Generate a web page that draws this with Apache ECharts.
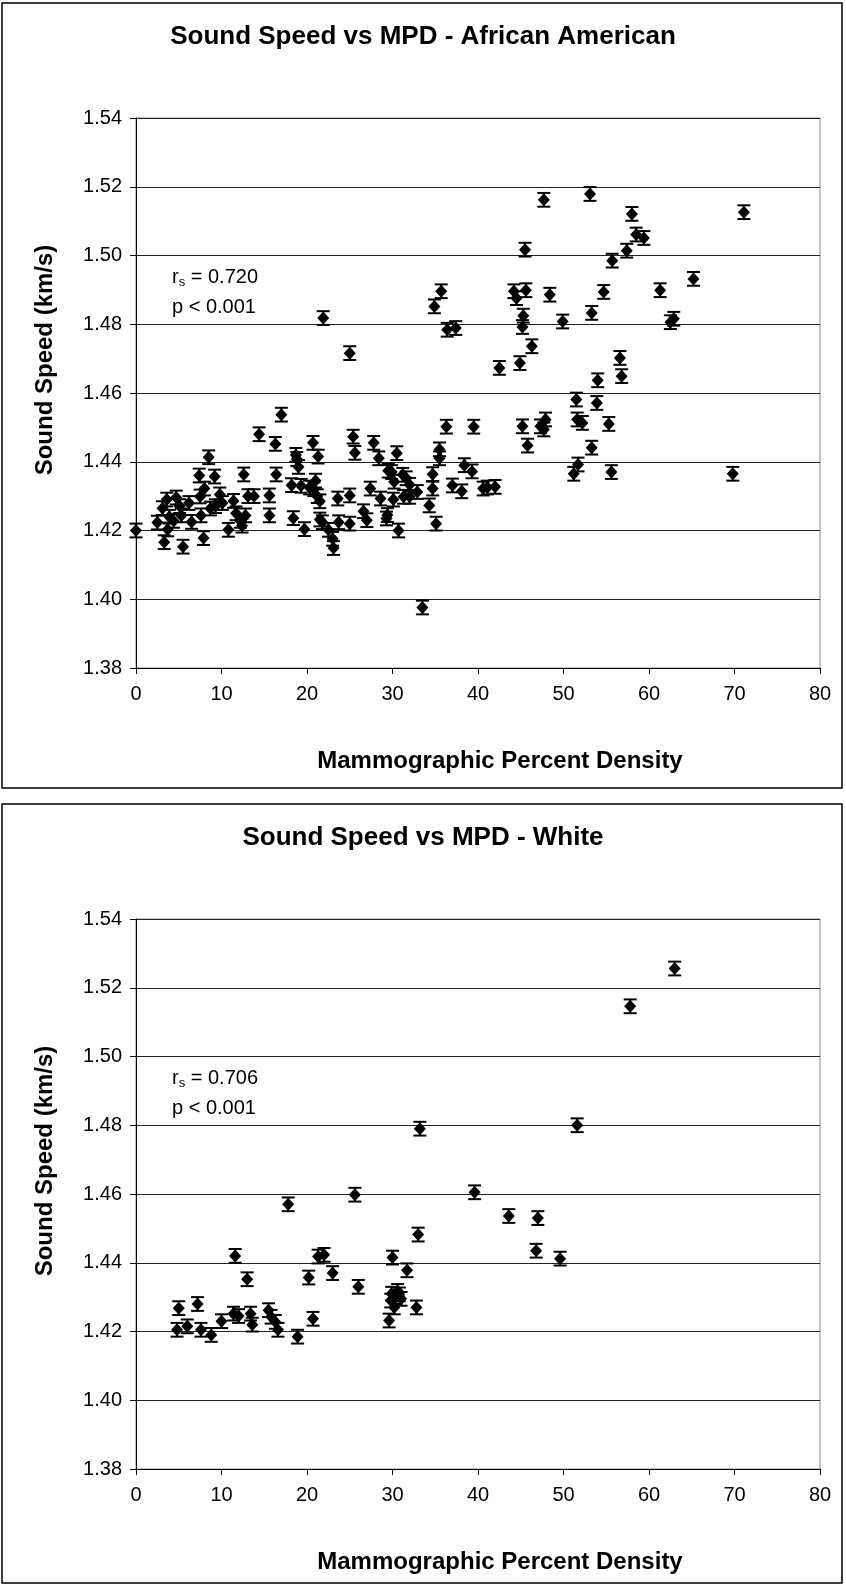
<!DOCTYPE html>
<html>
<head>
<meta charset="utf-8">
<title>Sound Speed vs MPD</title>
<script src="https://cdn.jsdelivr.net/npm/echarts@6/dist/echarts.min.js"></script>
<style>
  html, body { margin: 0; padding: 0; background: #fff; }
  #main { width: 846px; height: 1585px; }
</style>
</head>
<body>
<div id="main"></div>
<script>
// chart text
var titles = ['Sound Speed vs MPD - African American', 'Sound Speed vs MPD - White'];
var xName = 'Mammographic Percent Density';
var yName = 'Sound Speed (km/s)';
var rsValues = ['0.720', '0.706'];
var pValues = ['0.001', '0.001'];

// error bar half length (km/s)
var errAA = 0.002;
var errW = 0.002;

// [MPD %, sound speed km/s]
var dataAA = [
    [0, 1.420], [2.5, 1.4223], [3.1, 1.4265], [3.3, 1.4166], [3.6, 1.4290],
    [3.7, 1.4203], [3.9, 1.4240], [4.4, 1.4228], [4.7, 1.4296], [5.1, 1.4271],
    [5.3, 1.4244], [5.5, 1.4153], [6.2, 1.4280], [6.5, 1.4225], [7.4, 1.4360],
    [7.5, 1.4299], [7.6, 1.4244], [7.9, 1.4178], [8.0, 1.4322], [8.5, 1.4413],
    [8.7, 1.4264], [9.2, 1.4357], [9.3, 1.4271], [9.8, 1.4305], [10.1, 1.4280],
    [10.8, 1.4202], [11.4, 1.4286], [11.7, 1.4250], [12.2, 1.4228], [12.4, 1.4214],
    [12.6, 1.4363], [12.8, 1.4244], [13.1, 1.4300], [13.8, 1.4300], [14.4, 1.4480],
    [15.6, 1.4302], [15.6, 1.4244], [16.3, 1.4452], [16.4, 1.4363], [17.0, 1.4537],
    [18.2, 1.4332], [18.4, 1.4236], [18.7, 1.4420], [18.8, 1.4408], [19.0, 1.4385],
    [19.3, 1.4330], [19.7, 1.4204], [20.3, 1.4325], [20.7, 1.4455], [20.8, 1.4320],
    [21.0, 1.4345], [21.2, 1.4300], [21.3, 1.4415], [21.5, 1.4285], [21.5, 1.4232],
    [21.8, 1.4224], [21.9, 1.4818], [22.5, 1.4202], [23.0, 1.4176], [23.1, 1.4149],
    [23.6, 1.4293], [23.7, 1.4224], [25.0, 1.4302], [25.0, 1.4220], [25.0, 1.4716],
    [25.4, 1.4473], [25.6, 1.4426], [26.6, 1.4256], [27.0, 1.4230], [27.4, 1.4322],
    [27.8, 1.4455], [28.4, 1.4410], [28.6, 1.4293], [29.3, 1.4235], [29.4, 1.4245],
    [29.5, 1.4374], [29.9, 1.4370], [30.1, 1.4290], [30.2, 1.4342], [30.5, 1.4425],
    [30.7, 1.4200], [31.2, 1.4362], [31.3, 1.4298], [31.6, 1.4352], [32.0, 1.4333],
    [32.0, 1.4298], [32.9, 1.4312], [33.5, 1.3976], [34.3, 1.4273], [34.7, 1.4364],
    [34.7, 1.4322], [34.9, 1.4852], [35.1, 1.4220], [35.5, 1.4436], [35.5, 1.4410],
    [35.7, 1.4896], [36.3, 1.4502], [36.4, 1.4784], [37.0, 1.4331], [37.4, 1.4789],
    [38.1, 1.4314], [38.4, 1.4390], [39.3, 1.4372], [39.5, 1.4502], [40.6, 1.4322],
    [41.1, 1.4325], [42.0, 1.4327], [42.5, 1.4673], [44.2, 1.4896], [44.5, 1.4876],
    [44.9, 1.4687], [45.2, 1.4792], [45.2, 1.4503], [45.3, 1.4825], [45.5, 1.5017],
    [45.6, 1.4899], [45.8, 1.4447], [46.3, 1.4736], [47.3, 1.4503], [47.7, 1.5162],
    [47.7, 1.4494], [47.9, 1.4523], [48.4, 1.4886], [49.9, 1.4808], [51.2, 1.4365],
    [51.5, 1.4581], [51.6, 1.4523], [51.7, 1.4392], [52.2, 1.4513], [53.1, 1.5179],
    [53.3, 1.4833], [53.3, 1.4441], [53.9, 1.4571], [54.0, 1.4637], [54.7, 1.4894],
    [55.3, 1.4510], [55.6, 1.4370], [55.7, 1.4985], [56.6, 1.4702], [56.8, 1.4649],
    [57.4, 1.5014], [58.0, 1.5121], [58.5, 1.5061], [59.4, 1.5051], [61.3, 1.4899],
    [62.5, 1.4806], [62.9, 1.4816], [65.2, 1.4932], [69.8, 1.4365], [71.1, 1.5126]
];

var dataW = [
    [4.8, 1.4205], [5.0, 1.4268], [6.0, 1.4215], [7.2, 1.4280], [7.6, 1.4205],
    [8.8, 1.4190], [10.0, 1.4230], [11.4, 1.4252], [11.6, 1.4420], [12.0, 1.4245],
    [13.0, 1.4352], [13.4, 1.4252], [13.6, 1.4220], [15.5, 1.4262], [15.8, 1.4243],
    [16.3, 1.4228], [16.6, 1.4205], [17.8, 1.4570], [18.9, 1.4185], [20.2, 1.4357],
    [20.7, 1.4237], [21.3, 1.4418], [22.0, 1.4423], [23.0, 1.4370], [25.6, 1.4598],
    [26.0, 1.4330], [29.6, 1.4232], [29.8, 1.4290], [29.9, 1.4310], [30.0, 1.4415],
    [30.2, 1.4270], [30.4, 1.4300], [30.6, 1.4318], [30.8, 1.4308], [31.0, 1.4295],
    [31.7, 1.4378], [32.8, 1.4270], [33.0, 1.4482], [33.2, 1.4790], [39.6, 1.4605],
    [43.6, 1.4536], [46.8, 1.4435], [47.0, 1.4530], [49.6, 1.4412], [51.6, 1.4800],
    [57.8, 1.5146], [63.0, 1.5256]
];

var font = "'Liberation Sans', Arial, sans-serif";
var panelTop = [3, 804];
var panelHeight = [785, 779];
var plotTop = [118, 919];

var chart = echarts.init(document.getElementById('main'));

function errorBar(err) {
    return function (params, api) {
        var x = api.value(0), y = api.value(1);
        var hi = api.coord([x, y + err]);
        var lo = api.coord([x, y - err]);
        var st = { stroke: '#000', lineWidth: 2 };
        return {
            type: 'group',
            children: [
                { type: 'line', shape: { x1: hi[0], y1: hi[1], x2: lo[0], y2: lo[1] }, style: st },
                { type: 'line', shape: { x1: hi[0] - 6.5, y1: hi[1], x2: hi[0] + 6.5, y2: hi[1] }, style: st },
                { type: 'line', shape: { x1: lo[0] - 6.5, y1: lo[1], x2: lo[0] + 6.5, y2: lo[1] }, style: st }
            ]
        };
    };
}

var grids = [], xAxes = [], yAxes = [], series = [], graphics = [], titleList = [];
var sets = [[dataAA, errAA], [dataW, errW]];

sets.forEach(function (s, i) {
    grids.push({
        left: 136, top: plotTop[i], width: 684, height: 550,
        show: true, borderColor: '#888', borderWidth: 1
    });
    xAxes.push({
        gridIndex: i, type: 'value', min: 0, max: 80, interval: 10,
        axisLine: { onZero: false, lineStyle: { color: '#000', width: 1 } },
        axisTick: { length: 6, lineStyle: { color: '#000' } },
        axisLabel: { fontSize: 20, color: '#000', fontFamily: font, margin: 16 },
        splitLine: { show: false }
    });
    yAxes.push({
        gridIndex: i, type: 'value', min: 1.38, max: 1.54, interval: 0.02,
        axisLine: { show: true, lineStyle: { color: '#000', width: 1 } },
        axisTick: { show: true, length: 6, lineStyle: { color: '#000' } },
        axisLabel: {
            fontSize: 20, color: '#000', fontFamily: font, margin: 14,
            formatter: function (v) { return v.toFixed(2); }
        },
        splitLine: { lineStyle: { color: '#222', width: 1 } }
    });
    series.push({
        type: 'custom', xAxisIndex: i, yAxisIndex: i,
        renderItem: errorBar(s[1]), data: s[0], z: 2
    });
    series.push({
        type: 'scatter', xAxisIndex: i, yAxisIndex: i,
        symbol: 'diamond', symbolSize: [12, 13],
        itemStyle: { color: '#000', opacity: 1 }, data: s[0], z: 3
    });
    titleList.push({
        text: titles[i], left: 'center', top: panelTop[i] + 16,
        textStyle: { fontSize: 26, fontWeight: 'bold', color: '#000', fontFamily: font }
    });
    graphics.push({
        type: 'rect', shape: { x: 2, y: panelTop[i], width: 840, height: panelHeight[i] },
        style: { fill: 'none', stroke: '#000', lineWidth: 1.5 }, z: 10
    });
    graphics.push({
        type: 'text', x: 500, y: plotTop[i] + 643,
        style: {
            text: xName, fill: '#000', font: 'bold 24px ' + font,
            align: 'center', verticalAlign: 'middle'
        }
    });
    graphics.push({
        type: 'text', x: 45, y: plotTop[i] + 242, rotation: Math.PI / 2,
        style: {
            text: yName, fill: '#000', font: 'bold 24px ' + font,
            align: 'center', verticalAlign: 'middle'
        }
    });
    graphics.push({
        type: 'text', x: 172, y: plotTop[i] + 159,
        style: {
            text: '{a|r}{b|s}{a| = ' + rsValues[i] + '}',
            verticalAlign: 'middle',
            rich: {
                a: { fontSize: 20, fontFamily: font, color: '#000', lineHeight: 24 },
                b: { fontSize: 13, fontFamily: font, color: '#000', lineHeight: 10, verticalAlign: 'bottom' }
            }
        }
    });
    graphics.push({
        type: 'text', x: 172, y: plotTop[i] + 189,
        style: {
            text: 'p < ' + pValues[i], fill: '#000', font: '20px ' + font,
            align: 'left', verticalAlign: 'middle'
        }
    });
});

chart.setOption({
    backgroundColor: '#fff',
    animation: false,
    title: titleList,
    grid: grids,
    xAxis: xAxes,
    yAxis: yAxes,
    series: series,
    graphic: graphics
});
</script>
</body>
</html>
